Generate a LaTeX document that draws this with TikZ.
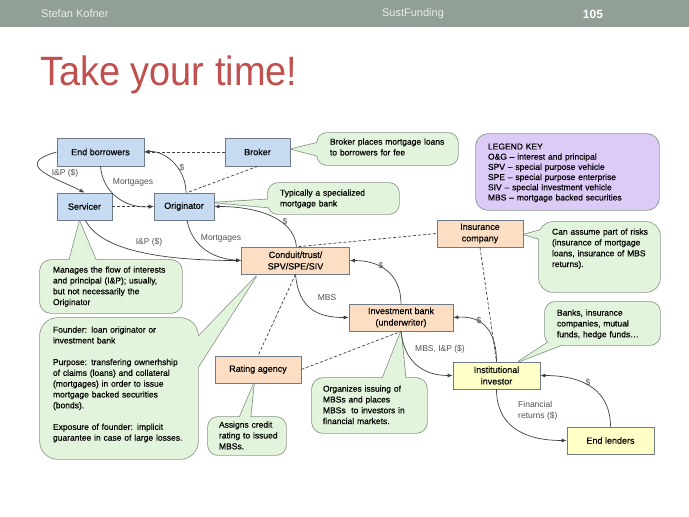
\documentclass[tikz,border=0pt]{standalone}
\usepackage{graphicx}
\usepackage{fontspec}
\setmainfont{Liberation Sans}
\newfontfamily\heavyfont[FakeBold=0.35]{Liberation Sans}
\usetikzlibrary{calc,arrows.meta}
\pgfdeclarelayer{bg}
\pgfdeclarelayer{colines}
\pgfdeclarelayer{cofills}
\pgfsetlayers{bg,colines,cofills,main}
\definecolor{hdrcol}{HTML}{929F95}
\definecolor{hdrtxt}{HTML}{E9EDEA}
\definecolor{ttlcol}{HTML}{C0504D}
\definecolor{bluef}{HTML}{C6DAF1}
\definecolor{peachf}{HTML}{FCDEC4}
\definecolor{yellf}{HTML}{FFFFC6}
\definecolor{greenf}{HTML}{E3F4DC}
\definecolor{lavf}{HTML}{DCCAF7}
\definecolor{bordcol}{HTML}{6E7B8A}
\definecolor{coedgecol}{HTML}{7E8C7E}
\definecolor{conncol}{HTML}{404040}
\definecolor{labcol}{HTML}{505050}
\newcommand{\cobox}[5]{%
  \begin{pgfonlayer}{colines}
    \draw[coedge, rounded corners=#4pt] (#1.north west) rectangle ++(#2,#3);
  \end{pgfonlayer}
  \begin{pgfonlayer}{cofills}
    \fill[#5, rounded corners=#4pt] (#1.north west) rectangle ++(#2,#3);
  \end{pgfonlayer}}
\newcommand{\coptr}[4]{%
  \begin{pgfonlayer}{colines}
    \draw[coedge] (#1) -- (#3) -- (#2) -- cycle;
  \end{pgfonlayer}
  \begin{pgfonlayer}{cofills}
    \fill[#4] (#1) -- (#3) -- (#2) -- cycle;
  \end{pgfonlayer}}
\begin{document}
\begin{tikzpicture}[x=1pt,y=-1pt,
  bbox/.style={draw=bordcol, line width=0.7pt, align=center, inner sep=1pt, font=\heavyfont\fontsize{9}{11.5}\selectfont},
  sz/.style 2 args={minimum width=#1pt, minimum height=#2pt},
  bluebox/.style={bbox, fill=bluef},
  peachbox/.style={bbox, fill=peachf},
  yellbox/.style={bbox, fill=yellf},
  ctext/.style={anchor=north west, align=left, outer sep=0pt, text width=#1pt, font=\heavyfont\fontsize{8.5}{10.8}\selectfont},
  coedge/.style={draw=coedgecol, line width=1.4pt, line join=round},
  arr/.style={draw=conncol, line width=0.7pt, -{Latex[length=5pt,width=4pt]}},
  darr/.style={arr, dash pattern=on 3pt off 2pt},
  dline/.style={draw=conncol, line width=0.7pt, dash pattern=on 3pt off 2pt},
  lab/.style={text=labcol, inner sep=1pt, font=\fontsize{8.5}{11.5}\selectfont}]
\useasboundingbox (0,0) rectangle (689,517);
\begin{pgfonlayer}{bg}
  \fill[white] (0,0) rectangle (689,517);
  \fill[hdrcol] (0,0) rectangle (689,27);
\end{pgfonlayer}
% header and title
\node[anchor=west, text=hdrtxt, inner sep=0pt, font=\fontsize{11}{13}\selectfont] (hl) at (41,14) {Stefan Kofner};
\node[text=hdrtxt, inner sep=0pt, font=\fontsize{11}{13}\selectfont] (hm) at (413,14) {SustFunding};
\node[text=white, inner sep=0pt, font=\bfseries\fontsize{12}{14}\selectfont] (hr) at (593,14) {105};
\node[anchor=base west, inner sep=0pt, text=ttlcol, font=\fontsize{41}{45}\selectfont] (ttl) at (40,85) {\scalebox{0.925}[1]{Take your time!}};

% boxes
\node[bluebox, sz={87}{28}] (eb) at (100.5,152) {End borrowers};
\node[bluebox, sz={65}{28}] (br) at (257.5,152) {Broker};
\node[bluebox, sz={55}{27}] (sv) at (84.5,206.5) {Servicer};
\node[bluebox, sz={60}{27}] (or) at (184,206.5) {Originator};
\node[peachbox, sz={108}{27}] (cd) at (295.5,260.5) {Conduit/trust/\\SPV/SPE/SIV};
\node[peachbox, sz={86}{27}] (ic) at (480,233.5) {Insurance\\company};
\node[peachbox, sz={104}{27}] (ib) at (401,317.5) {Investment bank\\(underwriter)};
\node[peachbox, sz={86}{27}] (ra) at (258,369.5) {Rating agency};
\node[yellbox, sz={87}{27}] (ii) at (496.5,375.5) {Institutional\\investor};
\node[yellbox, sz={87}{27}] (el) at (610.5,440.5) {End lenders};

% callouts
\node[ctext=150, inner xsep=13pt, inner ysep=5.5pt] (cbk) at (317,133) {Broker places mortgage loans\\to borrowers for fee};
\cobox{cbk}{141}{32}{10}{greenf}
\coptr{325,141}{322,157}{$(br.east)+(1,-3)$}{greenf}

\node[ctext=140, inner xsep=12pt, inner ysep=6.5pt] (cty) at (268,183) {Typically a specialized\\mortgage bank};
\cobox{cty}{131}{31}{10}{greenf}
\coptr{274,199}{274,208}{$(or.east)+(1,-4)$}{greenf}

\node[ctext=150, inner xsep=13pt, inner ysep=6.5pt] (cmg) at (40,260) {Manages the flow of interests\\and principal (I\&P); usually,\\but not necessarily the\\Originator};
\cobox{cmg}{142}{53}{11}{greenf}
\coptr{68,265}{98,265}{$(sv.south)+(-5,1)$}{greenf}

\node[ctext=160, inner xsep=13pt, inner ysep=8.5pt] (cfd) at (40,318) {Founder: loan originator or\\investment bank\\[10.8pt]Purpose: transfering ownerhship\\of claims (loans) and collateral\\(mortgages) in order to issue\\mortgage backed securities\\(bonds).\\[10.8pt]Exposure of founder: implicit\\guarantee in case of large losses.};
\cobox{cfd}{158}{141}{18}{greenf}
\coptr{193,342}{193,375}{$(cd.south west)+(15,2)$}{greenf}

\node[ctext=80, inner xsep=11pt, inner ysep=4.5pt] (cas) at (208,417) {Assigns credit\\rating to issued\\MBSs.};
\cobox{cas}{78}{38}{10}{greenf}
\coptr{238,421}{250,421}{$(ra.south)+(-4,0)$}{greenf}

\node[ctext=110, inner xsep=11pt, inner ysep=7.5pt] (cog) at (312,378) {Organizes issuing of\\MBSs and places\\MBSs~ to investors in\\financial markets.};
\cobox{cog}{115}{55}{11}{greenf}
\coptr{381,382}{406,382}{ib.south}{greenf}

\node[ctext=120, inner xsep=13pt, inner ysep=6.5pt] (cca) at (539,222) {Can assume part of risks\\(insurance of mortgage\\loans, insurance of MBS\\returns).};
\cobox{cca}{121}{70}{14}{greenf}
\coptr{544,229}{546,241}{$(ic.east)+(1,1)$}{greenf}

\node[ctext=110, inner xsep=12pt, inner ysep=7.5pt] (cbn) at (545,302) {Banks, insurance\\companies, mutual\\funds, hedge funds\ldots};
\cobox{cbn}{115}{43}{10}{greenf}
\coptr{550,341}{572,341}{$(ii.north)+(22,0)$}{greenf}

\node[ctext=180, inner xsep=12pt, inner ysep=9.5pt, font=\heavyfont\fontsize{8.5}{10.2}\selectfont] (clg) at (476,134) {LEGEND KEY\\O\&G – interest and principal\\SPV – special purpose vehicle\\SPE – special purpose enterprise\\SIV – special investment vehicle\\MBS – mortgage backed securities};
\cobox{clg}{183}{76}{12}{lavf}

% connectors
\draw[arr] (eb.west) .. controls +(-47,13) and +(-24.5,-13) .. (sv.north);
\node[lab] (l1) at (65,173) {I\&P (\$)};
\draw[arr] (eb.south) .. controls +(2,25) and +(-30,2) .. (or.west);
\node[lab] (l2) at (133,182) {Mortgages};
\draw[arr] ($(or.north)+(2,0)$) .. controls +(0,-25) and +(20,-2) .. (eb.east);
\node[lab] (l3) at (182,168) {\$};
\draw[darr] (br.west) -- (eb.east);
\draw[dline] (br.south) -- ($(or.north)+(3,0)$);
\draw[darr] (sv.east) -- (or.west);
\draw[arr] ($(sv.south)+(1,0)$) .. controls +(15,30) and +(-80,0) .. (cd.west);
\node[lab] (l4) at (149,242) {I\&P (\$)};
\draw[arr] ($(or.south)+(3,0)$) .. controls +(5,25) and +(-30,-2) .. (cd.west);
\node[lab] (l5) at (221,238) {Mortgages};
\draw[arr] ($(cd.north)+(1,0)$) .. controls +(-3,-30) and +(40,0) .. (or.east);
\node[lab] (l6) at (285,222) {\$};
\draw[dline] ($(cd.north)+(3,0)$) -- (ic.west);
\draw[arr] (cd.south) .. controls +(3,35) and +(-30,0) .. (ib.west);
\node[lab] (l7) at (327,298) {MBS};
\draw[arr] (ib.north) .. controls +(0,-30) and +(30,0) .. (cd.east);
\node[lab] (l8) at (381,266) {\$};
\draw[dline] (cd.south) -- (ra.north);
\draw[dline] (ra.east) -- (ib.south);
\draw[arr] (ib.south) .. controls +(3,30) and +(-30,0) .. (ii.west);
\node[lab] (l9) at (440,349) {MBS, I\&P (\$)};
\draw[arr] (ii.north) .. controls +(0,-30) and +(30,-2) .. (ib.east);
\node[lab] (l10) at (479,321) {\$};
\draw[dline] (ic.south) -- (ii.north);
\draw[arr] (ii.south) .. controls +(0,35) and +(-45,0) .. (el.west);
\node[lab, align=left, anchor=west] (l11) at (517,411) {Financial\\returns (\$)};
\draw[arr] (el.north) .. controls +(0,-35) and +(45,0) .. (ii.east);
\node[lab] (l12) at (588,383) {\$};
\end{tikzpicture}
\end{document}
